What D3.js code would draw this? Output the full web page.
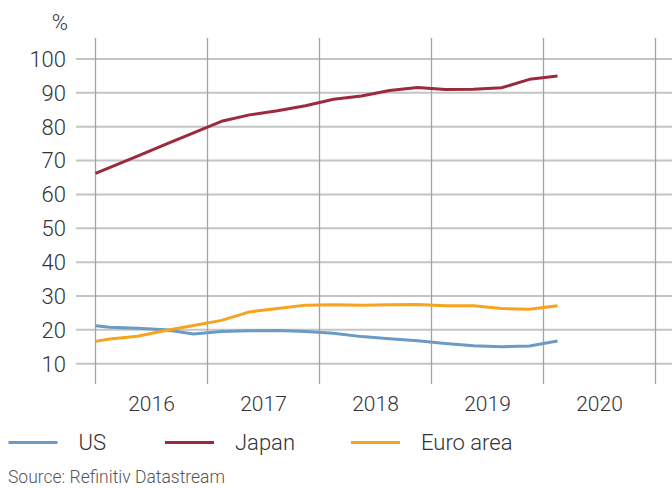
<!DOCTYPE html>
<html lang="en">
<head>
    <meta charset="UTF-8">
    <title>Central bank assets</title>
    <script src="https://d3js.org/d3.v7.min.js"></script>
    <style>
        body { margin: 0; background: #fff; font-family: Roboto, Arial, sans-serif; }
        svg text { font-weight: 300; fill: #333; }
    </style>
</head>
<body>
<div id="chart"></div>
<script>
    // Observation times in decimal years (first point sits at the chart edge)
    const times = [2016.0, 2016.125, 2016.375, 2016.625, 2016.875, 2017.125, 2017.375, 2017.625, 2017.875,
                   2018.125, 2018.375, 2018.625, 2018.875, 2019.125, 2019.375, 2019.625, 2019.875, 2020.125];
    const us    = [21.2, 20.8, 20.5, 20.0, 18.8, 19.5, 19.7, 19.8, 19.5, 19.0, 18.0, 17.4, 16.8, 16.0, 15.3, 15.0, 15.2, 16.7];
    const japan = [66.2, 67.9, 71.3, 74.8, 78.2, 81.6, 83.5, 84.7, 86.2, 88.1, 89.1, 90.7, 91.6, 91.0, 91.1, 91.5, 94.0, 95.0];
    const euro  = [16.6, 17.3, 18.1, 19.8, 21.3, 22.8, 25.3, 26.3, 27.3, 27.4, 27.3, 27.4, 27.5, 27.1, 27.1, 26.3, 26.1, 27.1];
    const yTicks = [10, 20, 30, 40, 50, 60, 70, 80, 90, 100];
    const years = [2016, 2017, 2018, 2019, 2020];
    const seriesNames = ["US", "Japan", "Euro area"];
    const colors = ["#6b9bc4", "#9b2b3c", "#f6a31d"];

    const width = 672, height = 488;
    const svg = d3.select("#chart").append("svg").attr("width", width).attr("height", height);

    const x = d3.scaleLinear().domain([2016, 2021]).range([95.5, 655.5]);
    const y = d3.scaleLinear().domain([10, 100]).range([363.7, 59]);

    // horizontal grid + y labels
    svg.append("g").selectAll("line").data(yTicks).enter().append("line")
        .attr("x1", 76).attr("x2", width)
        .attr("y1", d => y(d)).attr("y2", d => y(d))
        .attr("stroke", "#c4c4c4").attr("stroke-width", 2);

    svg.append("g").selectAll("text").data(yTicks).enter().append("text")
        .attr("x", 66).attr("y", d => y(d)).attr("dy", "0.36em")
        .attr("text-anchor", "end").style("font-size", "22px")
        .text(d => d);

    svg.append("text").attr("x", 68).attr("y", 30).attr("text-anchor", "end")
        .style("font-size", "22px").text("%");

    // vertical grid at year boundaries
    svg.append("g").selectAll("line").data(d3.range(2016, 2022)).enter().append("line")
        .attr("x1", d => x(d)).attr("x2", d => x(d))
        .attr("y1", 38).attr("y2", 384)
        .attr("stroke", "#a3a3a3").attr("stroke-width", 1.3);

    svg.append("g").selectAll("text").data(years).enter().append("text")
        .attr("x", d => x(d + 0.5)).attr("y", 411)
        .attr("text-anchor", "middle").style("font-size", "21px")
        .text(d => d);

    // lines
    const line = d3.line().x((d, i) => x(times[i])).y(d => y(d));
    [us, japan, euro].forEach((s, i) => {
        svg.append("path").datum(s)
            .attr("d", line)
            .attr("fill", "none")
            .attr("stroke", colors[i])
            .attr("stroke-width", 3)
            .attr("stroke-linejoin", "round");
    });

    // legend
    const legendX = [8.5, 165, 351];
    const legend = svg.append("g");
    seriesNames.forEach((name, i) => {
        legend.append("line")
            .attr("x1", legendX[i]).attr("x2", legendX[i] + 49)
            .attr("y1", 442.5).attr("y2", 442.5)
            .attr("stroke", colors[i]).attr("stroke-width", 3);
        legend.append("text")
            .attr("x", legendX[i] + 70).attr("y", 450)
            .style("font-size", "22px").text(name);
    });

    svg.append("text").attr("x", 8).attr("y", 483)
        .style("font-size", "17.5px").style("fill", "#555").text("Source: Refinitiv Datastream");
</script>
</body>
</html>
